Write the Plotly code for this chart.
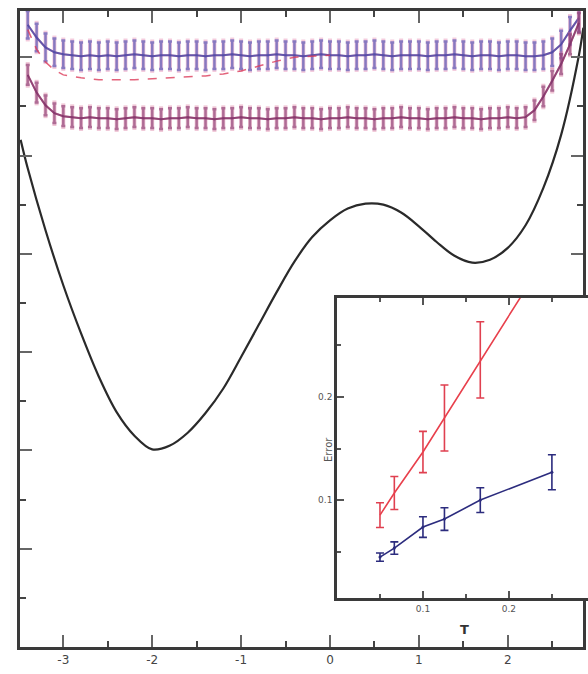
import plotly.graph_objects as go

# ---------------- main panel data ----------------
pot_x = [-3.48, -3.4, -3.2, -3.0, -2.8, -2.6, -2.4, -2.2, -2.0, -1.8, -1.6, -1.4, -1.2,
         -1.0, -0.8, -0.6, -0.4, -0.2, 0.0, 0.2, 0.4, 0.6, 0.8, 1.0, 1.2, 1.4, 1.6,
         1.8, 2.0, 2.2, 2.4, 2.6, 2.8, 2.85]
pot_y = [5.16, 4.87, 4.24, 3.68, 3.19, 2.75, 2.39, 2.15, 2.01, 2.05, 2.18, 2.38, 2.63,
         2.95, 3.28, 3.61, 3.92, 4.17, 4.34, 4.46, 4.51, 4.50, 4.42, 4.28, 4.12, 3.98, 3.91,
         3.94, 4.06, 4.29, 4.67, 5.21, 6.02, 6.30]

band_x = [-3.4, -3.3, -3.2, -3.1, -3.0, -2.9, -2.8, -2.7, -2.6, -2.5, -2.4, -2.3, -2.2,
          -2.1, -2.0, -1.9, -1.8, -1.7, -1.6, -1.5, -1.4, -1.3, -1.2, -1.1, -1.0, -0.9,
          -0.8, -0.7, -0.6, -0.5, -0.4, -0.3, -0.2, -0.1, 0.0, 0.1, 0.2, 0.3, 0.4, 0.5,
          0.6, 0.7, 0.8, 0.9, 1.0, 1.1, 1.2, 1.3, 1.4, 1.5, 1.6, 1.7, 1.8, 1.9, 2.0,
          2.1, 2.2, 2.3, 2.4, 2.5, 2.6, 2.7, 2.8]
upper_band = [6.33, 6.20, 6.10, 6.05, 6.03, 6.02, 6.01, 6.02, 6.01, 6.02, 6.01, 6.02, 6.03,
              6.02, 6.01, 6.02, 6.02, 6.01, 6.02, 6.02, 6.01, 6.02, 6.02, 6.03, 6.02, 6.01,
              6.02, 6.02, 6.03, 6.02, 6.02, 6.01, 6.02, 6.03, 6.02, 6.02, 6.01, 6.02, 6.02,
              6.03, 6.02, 6.01, 6.02, 6.02, 6.02, 6.01, 6.02, 6.02, 6.03, 6.02, 6.01, 6.02,
              6.02, 6.01, 6.02, 6.02, 6.01, 6.01, 6.02, 6.05, 6.13, 6.27, 6.40]
lower_band = [5.82, 5.64, 5.51, 5.43, 5.40, 5.39, 5.38, 5.39, 5.38, 5.38, 5.37, 5.38, 5.39,
              5.38, 5.38, 5.37, 5.38, 5.38, 5.39, 5.38, 5.38, 5.37, 5.38, 5.38, 5.39, 5.38,
              5.38, 5.37, 5.38, 5.38, 5.39, 5.38, 5.38, 5.37, 5.38, 5.38, 5.39, 5.38, 5.38,
              5.37, 5.38, 5.38, 5.39, 5.38, 5.38, 5.37, 5.38, 5.38, 5.39, 5.38, 5.38, 5.37,
              5.38, 5.38, 5.39, 5.38, 5.39, 5.46, 5.60, 5.76, 5.93, 6.13, 6.35]
upper_err = 0.14
lower_err = 0.10

dash_x = [-3.4, -3.3, -3.2, -3.1, -3.0, -2.8, -2.6, -2.4, -2.2, -2.0, -1.8, -1.6, -1.4,
          -1.2, -1.0, -0.8, -0.6, -0.4, -0.2, 0.0]
dash_y = [6.28, 6.08, 5.95, 5.87, 5.82, 5.79, 5.77, 5.77, 5.77, 5.78, 5.79, 5.80, 5.81,
          5.83, 5.86, 5.91, 5.96, 6.00, 6.01, 6.02]

main_ticks = [-3, -2, -1, 0, 1, 2]
main_ticklabels = ["-3", "-2", "-1", "0", "1", "2"]

# ---------------- inset data ----------------
ins_x = [0.05, 0.0667, 0.1, 0.125, 0.1667, 0.25]
red_y = [0.0854, 0.1068, 0.1466, 0.1796, 0.236, 0.345]
red_err = [0.012, 0.016, 0.020, 0.032, 0.037, 0.045]
blue_y = [0.0447, 0.0534, 0.0738, 0.0816, 0.100, 0.127]
blue_err = [0.004, 0.006, 0.010, 0.011, 0.012, 0.017]
inset_ticks = [0.1, 0.2]
inset_ticklabels = ["0.1", "0.2"]

W, H = 588, 674

fig = go.Figure()

# bands
fig.add_trace(go.Scatter(x=band_x, y=upper_band, mode="lines",
                         line=dict(color="rgba(225,120,160,0.6)", width=2),
                         error_y=dict(type="constant", value=upper_err + 0.03,
                                      color="rgba(230,140,180,0.45)", thickness=4, width=0),
                         xaxis="x", yaxis="y", showlegend=False))
fig.add_trace(go.Scatter(x=band_x, y=upper_band, mode="lines",
                         line=dict(color="rgba(75,70,165,0.85)", width=2),
                         error_y=dict(type="constant", value=upper_err,
                                      color="rgba(90,85,180,0.7)", thickness=2.5, width=2),
                         xaxis="x", yaxis="y", showlegend=False))
fig.add_trace(go.Scatter(x=dash_x, y=dash_y, mode="lines",
                         line=dict(color="rgba(220,60,90,0.8)", width=1.5, dash="dash"),
                         xaxis="x", yaxis="y", showlegend=False))
fig.add_trace(go.Scatter(x=band_x, y=lower_band, mode="lines",
                         line=dict(color="rgba(200,70,110,0.6)", width=2),
                         error_y=dict(type="constant", value=lower_err + 0.03,
                                      color="rgba(215,110,150,0.4)", thickness=4, width=0),
                         xaxis="x", yaxis="y", showlegend=False))
fig.add_trace(go.Scatter(x=band_x, y=lower_band, mode="lines",
                         line=dict(color="rgba(125,50,105,0.8)", width=2),
                         error_y=dict(type="constant", value=lower_err,
                                      color="rgba(140,60,115,0.65)", thickness=2.5, width=2),
                         xaxis="x", yaxis="y", showlegend=False))

# potential
fig.add_trace(go.Scatter(x=pot_x, y=pot_y, mode="lines",
                         line=dict(color="#2a2a2a", width=2.2, shape="spline", smoothing=1.0),
                         xaxis="x", yaxis="y", showlegend=False))

# inset
fig.add_trace(go.Scatter(x=ins_x, y=red_y, mode="lines",
                         line=dict(color="#e8404c", width=1.6),
                         error_y=dict(type="data", array=red_err, color="#e04050",
                                      thickness=1.6, width=4),
                         xaxis="x2", yaxis="y2", showlegend=False))
fig.add_trace(go.Scatter(x=ins_x, y=blue_y, mode="lines+markers",
                         line=dict(color="#2c2c7e", width=1.6),
                         marker=dict(size=3, color="#2c2c7e"),
                         error_y=dict(type="data", array=blue_err, color="#2c2c7e",
                                      thickness=1.6, width=4),
                         xaxis="x2", yaxis="y2", showlegend=False))

axcol = "#3a3a3a"
fig.update_layout(
    width=W, height=H, margin=dict(l=0, r=0, t=0, b=0),
    paper_bgcolor="white", plot_bgcolor="white",
    font=dict(family="DejaVu Sans", color="#444"),
    xaxis=dict(domain=[20 / W, 583 / W], range=[-3.487, 2.846],
               tickvals=main_ticks, ticktext=main_ticklabels,
               ticks="inside", ticklen=12, tickwidth=2, tickcolor="#666",
               minor=dict(dtick=0.5, tick0=0, ticks="inside", ticklen=6, tickwidth=2, tickcolor="#444"),
               showline=True, linecolor=axcol, linewidth=2.5, mirror="allticks",
               showgrid=False, zeroline=False, tickfont=dict(size=12, color="#444")),
    yaxis=dict(domain=[1 - 647 / H, 1 - 11 / H], range=[0, 6.47],
               tick0=0, dtick=1, ticks="inside", ticklen=12, tickwidth=2, tickcolor="#666",
               minor=dict(dtick=0.5, tick0=0, ticks="inside", ticklen=6, tickwidth=2, tickcolor="#444"),
               showticklabels=False,
               showline=True, linecolor=axcol, linewidth=2.5, mirror="allticks",
               showgrid=False, zeroline=False),
    xaxis2=dict(domain=[337 / W, 1.0], range=[0, 0.292], anchor="y2",
                tickvals=inset_ticks, ticktext=inset_ticklabels,
                ticks="inside", ticklen=7, tickwidth=1.5, tickcolor="#555",
                minor=dict(dtick=0.05, tick0=0, ticks="inside", ticklen=4, tickwidth=1.5, tickcolor="#555"),
                showline=True, linecolor=axcol, linewidth=2.5, mirror="allticks",
                showgrid=False, zeroline=False, tickfont=dict(size=9, color="#555")),
    yaxis2=dict(domain=[1 - 598 / H, 1 - 298 / H], range=[0.005, 0.296], anchor="x2",
                tickvals=inset_ticks, ticktext=inset_ticklabels,
                ticks="inside", ticklen=7, tickwidth=1.5, tickcolor="#555",
                minor=dict(dtick=0.05, tick0=0, ticks="inside", ticklen=4, tickwidth=1.5, tickcolor="#555"),
                showline=True, linecolor=axcol, linewidth=2.5, mirror=False,
                showgrid=False, zeroline=False, tickfont=dict(size=9, color="#555")),
    annotations=[
        dict(text="Error", x=328 / W, y=1 - 450 / H, xref="paper", yref="paper",
             textangle=-90, showarrow=False, font=dict(size=10, color="#555"),
             xanchor="center", yanchor="middle"),
        dict(text="<b>T</b>", x=464 / W, y=1 - 629 / H, xref="paper", yref="paper",
             showarrow=False, font=dict(size=13, color="#333"),
             xanchor="center", yanchor="middle"),
    ],
)

fig.write_html("out.html")
